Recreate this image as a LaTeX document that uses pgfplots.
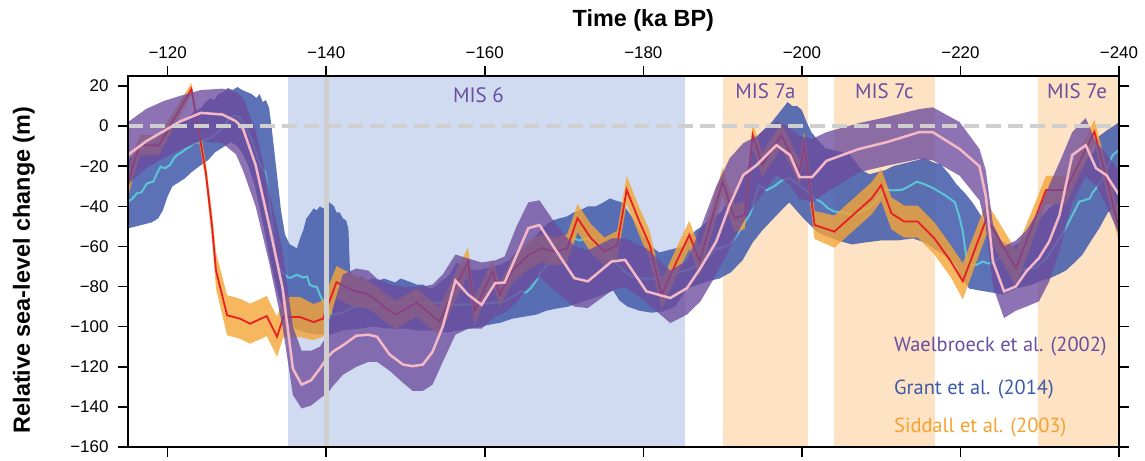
\documentclass[border=0pt]{standalone}
\usepackage{pgfplots}
\pgfplotsset{compat=1.18}
\usepackage{pgfplotstable}
\usepgfplotslibrary{fillbetween}
\usepackage{fontspec}
\setmainfont{Liberation Sans}
\newfontfamily\annot{PT Sans}

\definecolor{misA}{HTML}{D0DBF1}
\definecolor{misB}{HTML}{FDE2C3}
\definecolor{grantband}{HTML}{4A62AE}
\definecolor{grantline}{HTML}{5BC5D6}
\definecolor{sidband}{HTML}{F5A536}
\definecolor{sidline}{HTML}{E81E25}
\definecolor{waeband}{HTML}{6D4C9D}
\definecolor{waeline}{HTML}{F5B8C6}
\definecolor{txtpurple}{HTML}{6A4FA0}
\definecolor{txtblue}{HTML}{3B5BA8}
\definecolor{txtorange}{HTML}{F7A12F}
\definecolor{refgray}{HTML}{CFCFCF}

% Grant et al. (2014): upper and lower envelope, central estimate
\pgfplotstableread{
t v
-115.0 -17
-115.8 -14
-116.6 -12
-117.4 -10
-118.2 -8
-119.0 -5
-119.8 -2
-120.6 0
-121.4 2
-122.2 3
-123.0 6
-123.6 8
-124.2 9
-124.8 12
-125.4 14
-125.9 13
-126.4 16
-127.0 17
-127.6 19
-128.2 18
-128.8 19.5
-129.4 18
-130.0 17
-130.6 16
-131.2 14
-131.6 16
-132.0 12
-132.4 13
-132.8 9
-133.1 0
-133.5 -14
-133.9 -28
-134.3 -42
-134.8 -54
-135.4 -59
-135.9 -60
-136.3 -61
-136.7 -56
-137.1 -52
-137.5 -46
-137.9 -44
-138.4 -41
-138.8 -42
-139.2 -40
-139.6 -41
-140.0 -41
-140.4 -38
-140.7 -39
-141.0 -40
-141.3 -43
-141.7 -43
-142.1 -46
-142.5 -47
-142.8 -51
-143.0 -72
-143.4 -75
-143.8 -76
-144.5 -75
-145.2 -77
-145.9 -76
-146.6 -77
-147.3 -76
-148.0 -77
-148.7 -78
-149.4 -76
-150.1 -77
-150.8 -78
-151.4 -79
-152.2 -79
-153.1 -81
-153.7 -80
-154.3 -78
-155.0 -76
-155.6 -74
-156.4 -68
-157.2 -70
-158.0 -71
-159.0 -72
-160.0 -71
-161.0 -70
-162.0 -69
-163.0 -67
-164.0 -63
-165.0 -61
-166.0 -57
-166.8 -53
-167.8 -49
-168.6 -47
-169.4 -46
-170.4 -45
-171.2 -43
-172.0 -42
-173.0 -40
-174.0 -40
-175.0 -38
-175.8 -36
-176.4 -37
-177.3 -38
-178.0 -42
-179.0 -48
-180.0 -55
-181.0 -60
-182.0 -63
-183.0 -62
-184.0 -61
-185.0 -60
-185.8 -55
-186.6 -52
-187.4 -50
-188.2 -47
-189.0 -45
-189.8 -43
-190.6 -38
-191.4 -33
-192.2 -28
-193.0 -23
-193.8 -12
-194.6 -4
-195.4 -1
-196.2 2
-197.0 6
-197.6 9
-198.2 12
-198.8 10
-199.4 10
-200.0 8
-200.6 2
-201.2 -3
-202.0 -7
-203.0 -11
-204.0 -12
-205.0 -13
-206.0 -14
-206.8 -18
-207.6 -22
-208.5 -24
-209.5 -23
-210.5 -22
-211.5 -20
-212.5 -19
-213.5 -18
-214.5 -17
-215.5 -16
-216.5 -18
-217.5 -19
-218.6 -24
-219.5 -29
-220.7 -34
-221.5 -38
-222.0 -41
-222.8 -46
-223.6 -54
-224.5 -56
-225.5 -58
-226.5 -60
-227.5 -58
-228.7 -53
-229.8 -47
-231.2 -41
-232.0 -38
-233.0 -34
-234.0 -29
-234.6 -24
-235.4 -19
-236.2 -15
-236.8 -13
-237.5 -5
-238.5 -2
-239.3 0
-240.0 2
}\grantup

\pgfplotstableread{
t v
-115.0 -51
-116.0 -50
-117.0 -49
-118.0 -48
-118.8 -46
-119.4 -42
-120.0 -35
-120.6 -30
-121.4 -28
-122.2 -26
-123.0 -23
-124.0 -20
-125.1 -17
-126.0 -13
-127.2 -10
-128.0 -8
-128.8 -10
-129.5 -14
-130.2 -20
-131.0 -30
-132.0 -48
-133.0 -68
-134.0 -85
-135.0 -96
-136.0 -101
-137.5 -103
-139.0 -104
-140.5 -104
-142.0 -102
-144.0 -101
-146.0 -100
-148.0 -101
-150.0 -101
-152.0 -102
-154.0 -102
-155.2 -103
-156.5 -102
-158.0 -101
-159.5 -100
-160.6 -99
-162.0 -98
-163.5 -96
-165.0 -95
-166.5 -94
-167.8 -92
-169.0 -91
-170.5 -90
-172.0 -88
-173.5 -86
-175.0 -84
-176.2 -82
-177.0 -87
-178.0 -90
-179.5 -92
-181.0 -93
-182.4 -92.5
-184.0 -90
-185.5 -81
-187.0 -79
-188.5 -77
-189.6 -76
-191.0 -73
-192.5 -67
-193.8 -58
-195.0 -52
-196.2 -47
-197.4 -42
-198.4 -38
-199.3 -42
-200.2 -46
-201.2 -50
-202.0 -53
-203.2 -55
-204.5 -57
-206.3 -59
-208.0 -58
-210.0 -57
-212.0 -57
-214.0 -56
-215.5 -58
-217.0 -62
-218.2 -65
-219.2 -68
-220.2 -76
-221.1 -81
-222.5 -82
-224.0 -83
-225.3 -84
-227.0 -81
-229.1 -79
-230.2 -77
-231.2 -76
-232.3 -74
-233.3 -72
-234.4 -68
-235.4 -64
-236.5 -57
-237.5 -51
-238.6 -43
-239.3 -41
-240.0 -38
}\grantlo

\pgfplotstableread{
t v
-115.1 -37.6
-115.6 -36
-116.1 -33.5
-116.7 -33
-117.4 -28.5
-118.2 -27.7
-118.6 -24
-119.1 -20.2
-119.7 -21
-120.3 -19.4
-120.8 -16
-121.2 -14.4
-121.8 -13
-122.4 -11.1
-122.9 -10
-123.3 -8.6
-124.0 -8
-124.6 -7
-125.3 -6
-125.9 -4.5
-126.6 -2
-127.2 0.5
-127.6 3
-128.0 4.6
-128.5 5.2
-129.0 4.5
-129.5 2
-130.0 -1.5
-130.7 -8
-131.4 -16.4
-132.0 -21.4
-132.3 -22.7
-132.7 -32.7
-133.1 -45.9
-133.5 -60.9
-133.9 -69.2
-134.4 -73
-134.8 -74.1
-135.2 -75.5
-135.6 -75.5
-136.3 -74.1
-137.1 -75.5
-137.6 -75
-137.9 -79
-138.4 -80
-138.8 -80
-139.2 -84
-139.6 -87.4
-140.0 -90
-140.5 -92.3
-140.9 -94
-141.5 -93.5
-142.1 -93
-143.0 -91
-143.8 -89.5
-145.0 -90
-146.0 -89
-147.0 -89
-148.5 -88
-150.0 -88
-152.0 -88.5
-154.0 -88
-156.0 -89
-158.0 -89
-160.0 -88.5
-161.5 -88
-162.5 -87.4
-163.5 -85
-164.6 -82.4
-165.2 -83
-165.8 -80.8
-166.5 -77
-167.1 -72.5
-167.9 -69.2
-168.6 -66
-169.4 -62
-170.4 -57
-171.2 -55.9
-172.0 -57
-172.8 -56
-173.6 -57
-174.5 -60
-175.5 -64
-176.5 -68
-177.5 -72
-178.5 -75
-180.0 -76
-181.5 -76
-183.0 -75
-184.5 -73
-186.0 -71
-187.5 -68
-188.5 -64
-189.2 -60.9
-189.6 -61
-190.3 -60
-190.9 -59.2
-191.5 -56
-192.1 -52.6
-192.8 -48
-193.4 -44.3
-193.8 -40
-194.2 -34.3
-194.6 -29.4
-195.5 -32
-196.5 -30
-197.5 -27
-198.5 -26
-199.5 -29
-200.5 -32
-201.6 -36
-202.5 -38
-203.3 -41
-204.1 -42.6
-205.2 -43
-206.3 -44.3
-207.3 -43
-208.4 -41
-209.4 -37
-210.5 -31.8
-211.5 -32
-212.6 -31.8
-213.5 -30
-214.5 -27.7
-215.5 -29
-216.6 -31
-218.0 -34.3
-218.6 -36
-219.3 -38
-219.8 -44.3
-220.3 -52.6
-220.7 -64.2
-221.1 -69.2
-222.0 -69.2
-222.8 -67.5
-223.5 -68.5
-224.1 -68.3
-224.7 -66
-225.3 -66
-226.2 -69.2
-227.0 -72.5
-227.8 -71.5
-228.7 -70.8
-229.5 -70.8
-230.4 -67.5
-231.2 -64.2
-231.8 -60
-232.5 -55.9
-233.1 -52
-233.7 -47.6
-234.3 -43
-235.0 -37.6
-235.6 -37
-236.3 -36
-236.7 -33
-237.1 -31
-238.0 -26
-238.6 -20
-239.2 -14.4
-240.0 -11.9
}\grantmid

% Waelbroeck et al. (2002): lower bound, central estimate, upper bound
\pgfplotstableread{
t lo c up
-115.0 -29 -14.4 2
-117.3 -21 -7.5 8.6
-119.5 -16 -2.5 12.5
-121.5 -12 2.2 15
-124.2 -7.5 6.6 18
-126.9 -8.5 5.8 18.7
-128.6 -14 2.5 17
-129.5 -22 -1.2 14
-131.1 -40 -19.4 -2
-132.8 -68 -49.3 -32
-134.5 -100 -80.8 -62
-135.8 -134 -121 -100
-136.9 -140.8 -128.9 -112
-138.1 -139.3 -126.7 -112
-139.2 -135.8 -120.9 -110
-140.2 -133 -115.1 -104
-140.9 -129.4 -112.3 -90
-142.1 -124 -109.3 -74
-143.8 -120 -104.5 -71
-145.3 -117.6 -104 -72
-146.4 -117.5 -105 -76
-148.0 -122 -113.9 -79
-149.7 -128 -118.9 -80
-150.9 -132 -119.7 -80
-152.2 -132 -118.9 -80
-153.4 -129 -112.6 -79
-154.7 -117.6 -100 -74
-156.3 -104 -77 -64
-157.9 -101 -84 -66
-159.6 -101 -89.1 -68
-161.3 -95 -78.3 -67
-162.5 -93 -78 -65
-164.0 -88 -64.5 -50
-165.5 -80 -50.9 -38
-166.9 -75 -49.3 -37
-168.8 -82 -60.9 -48
-171.3 -90 -75.8 -60
-173.0 -90.7 -77.4 -62
-176.0 -82 -67.5 -56
-177.7 -80 -66.7 -56
-180.4 -88 -82.4 -61
-183.4 -98.2 -85.7 -72
-185.5 -94 -80.8 -67
-187.2 -87.4 -70.8 -51
-189.2 -74 -57.5 -30
-190.9 -60.9 -39.3 -16
-192.6 -48 -24.4 -8.5
-194.3 -37.6 -19.4 -5
-196.8 -24.4 -9.5 2.5
-198.5 -29.4 -14.4 -1
-199.7 -36.3 -25.4 -4.8
-201.3 -38 -25.4 -6.4
-203.1 -33 -17.3 -3
-207.2 -23 -11.4 1.5
-210.7 -19.7 -8 4.5
-214.8 -16.4 -3 8.5
-216.5 -17 -3 9.4
-219.9 -24.7 -11.4 2
-222.4 -37 -20 -11.4
-223.2 -50 -35 -22
-224.1 -80 -67.5 -49
-225.5 -95.7 -82.4 -60
-227.0 -92 -79.9 -57
-228.3 -90 -72.5 -52
-229.9 -87.4 -65.8 -42
-231.2 -77.4 -57.5 -29.4
-232.5 -62 -44.3 -18
-234.1 -38 -14.4 -3
-235.8 -25 -9.5 4
-237.1 -29.4 -21 -7.8
-238.4 -39.3 -24.4 -14
-240.0 -54.2 -34.3 -22
}\wael

% Siddall et al. (2003): central estimate and half-width of the band
\pgfplotstableread{
t v e
-115.0 -30 6
-115.6 -20 6
-116.5 -9.5 5
-118.9 -9.5 5
-123.0 18.5 3
-124.8 -22.7 5
-125.6 -50 7
-126.1 -72 9
-127.5 -94.3 10
-129.1 -96 10
-130.4 -98.5 10
-132.5 -94.7 10
-133.8 -105 10
-134.6 -95.2 10
-136.7 -95.2 10
-138.4 -97.7 9
-139.6 -96 9
-141.3 -77.8 8
-143.4 -82 8
-145.1 -83.6 7
-146.4 -87 7
-147.6 -91 7
-148.8 -94 7
-151.4 -88 7
-154.3 -97.5 7
-156.2 -80.8 7
-157.9 -67.5 7
-158.7 -92.3 7
-160.0 -80.8 6
-161.0 -72.5 6
-161.9 -84.1 6
-163.4 -72.5 6
-165.5 -64.2 7
-167.2 -60.9 7
-168.8 -62.6 7
-170.4 -60.9 7
-171.7 -45.9 7
-173.4 -55.9 7
-175.1 -62.6 7
-176.7 -59.2 7
-177.9 -31.8 7
-179.5 -47.6 7
-180.8 -59.2 7
-182.3 -84.1 7
-184.2 -67.5 7
-185.8 -54.2 7
-187.1 -67.5 7
-190.0 -27.7 7
-191.5 -45.9 7
-192.8 -44.3 7
-193.8 -4.5 6
-195.0 -19.4 6
-197.4 -4.5 6
-199.7 -23 6
-200.3 -9 6
-201.6 -49.3 7
-204.1 -52.6 8
-208.8 -36 8
-210.0 -29.4 8
-211.3 -43.5 8
-212.9 -47.6 8
-214.6 -47.6 8
-216.7 -55.9 8
-218.8 -67.5 8
-220.3 -77.4 9
-223.3 -45.9 8
-227.0 -70.8 9
-230.8 -31.8 7
-233.3 -31.8 7
-236.9 -2.8 6
-240.0 -50.9 7
}\sidd

\begin{document}
\begin{tikzpicture}
\begin{axis}[
  set layers, axis on top,
  scale only axis, width=991bp, height=371bp,
  xmin=-240, xmax=-115, x dir=reverse,
  ymin=-160, ymax=25,
  xtick={-120,-140,-160,-180,-200,-220,-240},
  xticklabels={−120,−140,−160,−180,−200,−220,−240},
  ytick={-160,-140,-120,-100,-80,-60,-40,-20,0,20},
  yticklabels={−160,−140,−120,−100,−80,−60,−40,−20,0,20},
  xticklabel pos=upper,
  tick align=outside, major tick length=10bp,
  axis line style={line width=2bp},
  every tick/.style={black, line width=1.6bp},
  ticklabel style={font=\fontsize{17}{20}\selectfont},
  xticklabel style={yshift=4bp},
  yticklabel style={xshift=-6bp},
  xlabel={\bfseries Time (ka BP)},
  ylabel={\bfseries Relative sea-level change (m)},
  xlabel style={font=\fontsize{23.5}{26}\selectfont, at={(axis description cs:0.52,1.151)}, anchor=center},
  ylabel style={font=\fontsize{23.5}{26}\selectfont, at={(axis description cs:-0.105,0.477)}, anchor=center},
  fill between/on layer=main,
]
\coordinate (bl) at (rel axis cs:0,0);
\coordinate (tr) at (rel axis cs:1,1);

% marine isotope stages
\addplot[fill=misA, draw=none] coordinates {(-135.2,-160) (-135.2,25) (-185.3,25) (-185.3,-160)} -- cycle;
\addplot[fill=misB, draw=none] coordinates {(-190.1,-160) (-190.1,25) (-200.8,25) (-200.8,-160)} -- cycle;
\addplot[fill=misB, draw=none] coordinates {(-204.0,-160) (-204.0,25) (-216.8,25) (-216.8,-160)} -- cycle;
\addplot[fill=misB, draw=none] coordinates {(-229.8,-160) (-229.8,25) (-240,25) (-240,-160)} -- cycle;

% Grant et al. (2014)
\addplot[draw=none, name path=gu] table[x=t, y=v] {\grantup};
\addplot[draw=none, name path=gl] table[x=t, y=v] {\grantlo};
\addplot[fill=grantband, fill opacity=0.9, draw=none] fill between[of=gu and gl];
\addplot[grantline, line width=2bp] table[x=t, y=v] {\grantmid};

% Siddall et al. (2003)
\addplot[draw=none, name path=su] table[x=t, y expr=\thisrow{v}+\thisrow{e}] {\sidd};
\addplot[draw=none, name path=sl] table[x=t, y expr=\thisrow{v}-\thisrow{e}] {\sidd};
\addplot[fill=sidband, fill opacity=0.8, draw=none] fill between[of=su and sl];
\addplot[sidline, line width=1.8bp] table[x=t, y=v] {\sidd};

% Waelbroeck et al. (2002)
\addplot[draw=none, name path=wu] table[x=t, y=up] {\wael};
\addplot[draw=none, name path=wl] table[x=t, y=lo] {\wael};
\addplot[fill=waeband, fill opacity=0.78, draw=none] fill between[of=wu and wl];
\addplot[waeline, line width=2.5bp] table[x=t, y=c] {\wael};

% present-day sea level and the 140 ka reference line
\addplot[refgray, line width=3.5bp, dash pattern=on 14.5bp off 7.5bp] coordinates {(-115,0) (-240,0)};
\addplot[refgray, line width=5bp] coordinates {(-140,-160) (-140,25)};

\node[txtpurple, font=\annot\fontsize{21}{24}\selectfont] at (axis cs:-159.2,15.4) {MIS 6};
\node[txtpurple, font=\annot\fontsize{21}{24}\selectfont] at (axis cs:-195.4,17.4) {MIS 7a};
\node[txtpurple, font=\annot\fontsize{21}{24}\selectfont] at (axis cs:-210.4,17.4) {MIS 7c};
\node[txtpurple, font=\annot\fontsize{21}{24}\selectfont] at (axis cs:-234.7,17.4) {MIS 7e};

\node[txtpurple, anchor=west, font=\annot\fontsize{20.5}{24}\selectfont] at (axis cs:-211.2,-110) {Waelbroeck et al. (2002)};
\node[txtblue, anchor=west, font=\annot\fontsize{20.5}{24}\selectfont] at (axis cs:-211.2,-131.3) {Grant et al. (2014)};
\node[txtorange, anchor=west, font=\annot\fontsize{20.5}{24}\selectfont] at (axis cs:-211.2,-150.2) {Siddall et al. (2003)};
\end{axis}
\pgfresetboundingbox
\path[use as bounding box] ([xshift=-128bp,yshift=-14bp]bl) rectangle ([xshift=26bp,yshift=76bp]tr);
\end{tikzpicture}
\end{document}
